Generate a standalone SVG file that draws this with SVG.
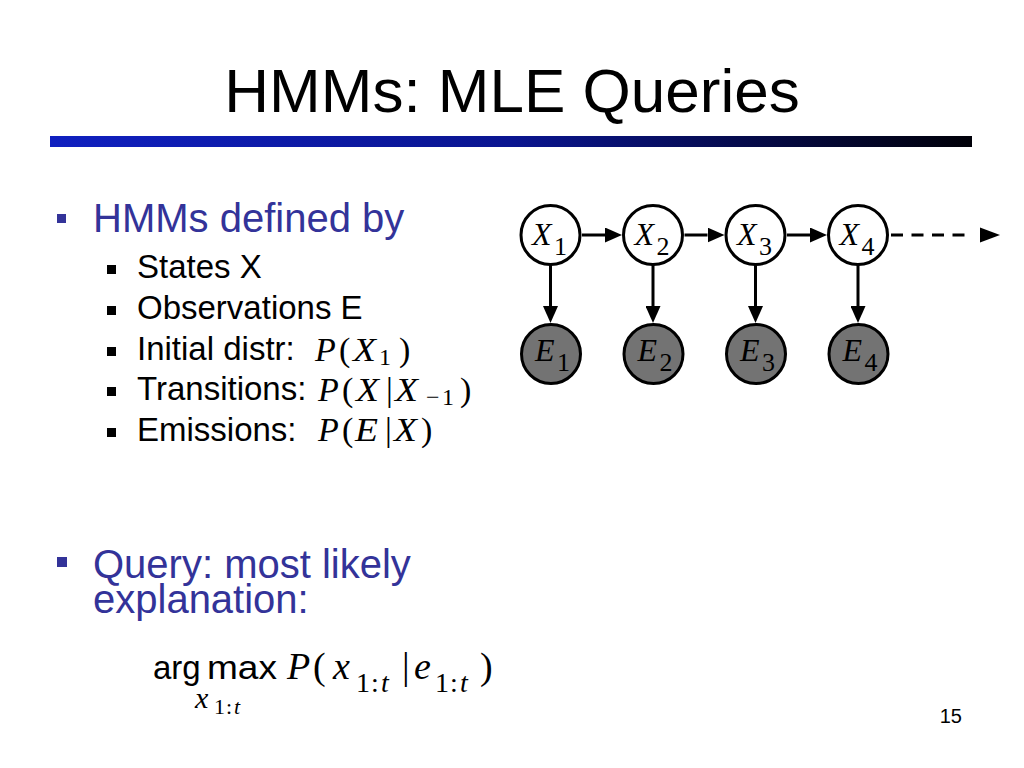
<svg xmlns="http://www.w3.org/2000/svg" width="1024" height="768" viewBox="0 0 1024 768">
<style>
.title{font-family:"Liberation Sans",Arial,sans-serif;font-size:62px;fill:#000}
.l1{font-family:"Liberation Sans",Arial,sans-serif;font-size:40px;fill:#333399}
.l2{font-family:"Liberation Sans",Arial,sans-serif;font-size:33px;fill:#000}
.m{font-family:"Liberation Serif","Times New Roman",serif;font-size:34px;fill:#000}
.mb{font-family:"Liberation Serif","Times New Roman",serif;font-size:38px;fill:#000}
.it{font-style:italic}
.sub{font-size:24px}
.sb{font-size:28px}
.u1{font-size:30px}
.u2{font-size:22px}
.sans{font-family:"Liberation Sans",Arial,sans-serif;font-size:33px;fill:#000}
.node{fill:#fff;stroke:#000;stroke-width:3}
.obs{fill:#737373;stroke:#000;stroke-width:3}
.lab{font-family:"Liberation Serif","Times New Roman",serif;font-size:32px;fill:#000}
.lab .i{font-style:italic}
.lab .s{font-size:26px}
.edge{stroke:#000;stroke-width:3;fill:none}
.dash{stroke:#000;stroke-width:3;fill:none;stroke-dasharray:12 8.5}
.b1{fill:#333399}
.b2{fill:#000}
</style>
<defs>
<linearGradient id="bar" x1="0" y1="0" x2="1" y2="0">
<stop offset="0" stop-color="#1020c0"/>
<stop offset="0.5" stop-color="#0a1590"/>
<stop offset="1" stop-color="#000008"/>
</linearGradient>
<marker id="ah" markerUnits="userSpaceOnUse" markerWidth="17" markerHeight="15" refX="0" refY="7.5" orient="auto">
<path d="M0,0 L17,7.5 L0,15 z" fill="#000"/>
</marker>
</defs>
<rect width="1024" height="768" fill="#fff"/>

<g id="title">
<text class="title" x="512" y="112" text-anchor="middle">HMMs: MLE Queries</text>
<rect x="50" y="136" width="922" height="11" fill="url(#bar)"/>
</g>

<g id="bullets">
<rect class="b1" x="57" y="214" width="9" height="9"/>
<text class="l1" x="93" y="232">HMMs defined by</text>
<rect class="b2" x="107" y="265" width="9" height="9"/>
<text class="l2" x="137" y="278">States X</text>
<rect class="b2" x="107" y="306" width="9" height="9"/>
<text class="l2" x="137" y="319">Observations E</text>
<rect class="b2" x="107" y="347" width="9" height="9"/>
<text class="l2" x="137" y="360">Initial distr:</text>
<rect class="b2" x="107" y="387" width="9" height="9"/>
<text class="l2" x="137" y="400">Transitions:</text>
<rect class="b2" x="107" y="428" width="9" height="9"/>
<text class="l2" x="137" y="441">Emissions:</text>

<g id="initial-formula" class="m">
<text class="it" x="315" y="361">P</text>
<text x="339" y="361">(</text>
<text class="it" x="353" y="361" textLength="23" lengthAdjust="spacingAndGlyphs">X</text>
<text class="sub" x="379" y="365">1</text>
<text x="399" y="361">)</text>
</g>
<g id="transition-formula" class="m">
<text class="it" x="318" y="401">P</text>
<text x="342" y="401">(</text>
<text class="it" x="356" y="401" textLength="23" lengthAdjust="spacingAndGlyphs">X</text>
<text x="386" y="401">|</text>
<text class="it" x="395" y="401" textLength="23" lengthAdjust="spacingAndGlyphs">X</text>
<text class="sub" x="426" y="405">−</text>
<text class="sub" x="442" y="405">1</text>
<text x="460" y="401">)</text>
</g>
<g id="emission-formula" class="m">
<text class="it" x="318" y="441">P</text>
<text x="342" y="441">(</text>
<text class="it" x="355" y="441" textLength="23" lengthAdjust="spacingAndGlyphs">E</text>
<text x="385" y="441">|</text>
<text class="it" x="394" y="441" textLength="23" lengthAdjust="spacingAndGlyphs">X</text>
<text x="421" y="441">)</text>
</g>

<rect class="b1" x="57" y="557" width="10" height="10"/>
<text class="l1" x="93" y="578">Query: most likely</text>
<text class="l1" x="93" y="613">explanation:</text>

<g id="argmax-formula">
<text class="sans" x="153" y="679">arg</text>
<text class="sans" x="207" y="679" textLength="70" lengthAdjust="spacingAndGlyphs">max</text>
<text class="mb it" x="287" y="679">P</text>
<text class="mb" x="313" y="679">(</text>
<text class="mb it" x="333" y="679">x</text>
<text class="mb sb" x="356" y="692">1</text>
<text class="mb sb" x="371" y="692">:</text>
<text class="mb sb it" x="381" y="692">t</text>
<text class="mb" x="402" y="679">|</text>
<text class="mb it" x="414" y="679">e</text>
<text class="mb sb" x="435" y="692">1</text>
<text class="mb sb" x="450" y="692">:</text>
<text class="mb sb it" x="460" y="692">t</text>
<text class="mb" x="480" y="679">)</text>
<text class="mb it u1" x="195" y="708">x</text>
<text class="mb u2" x="214" y="714">1</text>
<text class="mb u2" x="226" y="714">:</text>
<text class="mb it u2" x="234" y="714">t</text>
</g>
</g>

<g id="connectors">
<line class="edge" x1="582" y1="235" x2="605" y2="235" marker-end="url(#ah)"/>
<line class="edge" x1="684.5" y1="235" x2="707.5" y2="235" marker-end="url(#ah)"/>
<line class="edge" x1="787" y1="235" x2="810" y2="235" marker-end="url(#ah)"/>
<line class="dash" x1="891" y1="235" x2="965" y2="235"/>
<polygon points="980,227.5 1000,235 980,242.5" fill="#000"/>
<line class="edge" x1="550.5" y1="265" x2="550.5" y2="306" marker-end="url(#ah)"/>
<line class="edge" x1="653" y1="265" x2="653" y2="306" marker-end="url(#ah)"/>
<line class="edge" x1="755.5" y1="265" x2="755.5" y2="306" marker-end="url(#ah)"/>
<line class="edge" x1="858" y1="265" x2="858" y2="306" marker-end="url(#ah)"/>
</g>

<g id="X1"><circle class="node" cx="550.5" cy="235" r="29.5"/><text class="lab"><tspan class="i" x="532" y="245">X</tspan><tspan class="s" x="554" y="255">1</tspan></text></g>
<g id="X2"><circle class="node" cx="653" cy="235" r="29.5"/><text class="lab"><tspan class="i" x="634.5" y="245">X</tspan><tspan class="s" x="656.5" y="255">2</tspan></text></g>
<g id="X3"><circle class="node" cx="755.5" cy="235" r="29.5"/><text class="lab"><tspan class="i" x="737" y="245">X</tspan><tspan class="s" x="759" y="255">3</tspan></text></g>
<g id="X4"><circle class="node" cx="858" cy="235" r="29.5"/><text class="lab"><tspan class="i" x="839.5" y="245">X</tspan><tspan class="s" x="861.5" y="255">4</tspan></text></g>

<g id="E1"><circle class="obs" cx="551" cy="354" r="29.5"/><text class="lab"><tspan class="i" x="535" y="361">E</tspan><tspan class="s" x="557" y="371">1</tspan></text></g>
<g id="E2"><circle class="obs" cx="653.5" cy="354" r="29.5"/><text class="lab"><tspan class="i" x="637.5" y="361">E</tspan><tspan class="s" x="659.5" y="371">2</tspan></text></g>
<g id="E3"><circle class="obs" cx="756" cy="354" r="29.5"/><text class="lab"><tspan class="i" x="740" y="361">E</tspan><tspan class="s" x="762" y="371">3</tspan></text></g>
<g id="E4"><circle class="obs" cx="858.5" cy="354" r="29.5"/><text class="lab"><tspan class="i" x="842.5" y="361">E</tspan><tspan class="s" x="864.5" y="371">4</tspan></text></g>

<text x="962" y="723" text-anchor="end" font-family="Liberation Sans, Arial, sans-serif" font-size="20" fill="#000">15</text>
</svg>
